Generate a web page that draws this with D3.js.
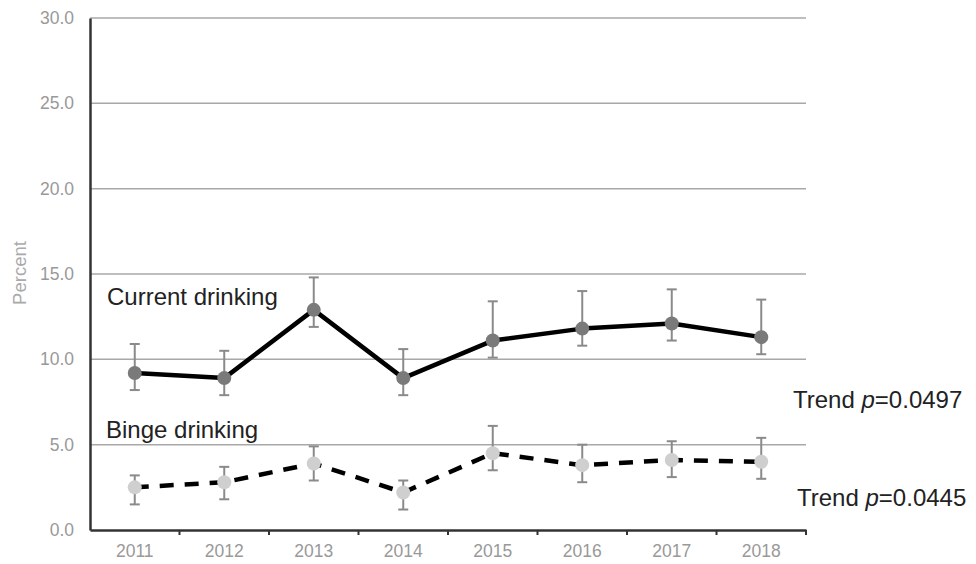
<!DOCTYPE html>
<html><head><meta charset="utf-8">
<script src="https://cdn.jsdelivr.net/npm/d3@7"></script>
<style>body{margin:0;background:#fff;}svg{display:block;font-family:"Liberation Sans",Arial,sans-serif;}</style>
</head><body>
<svg id="c" width="976" height="564"></svg>
<script>
const years = ["2011","2012","2013","2014","2015","2016","2017","2018"];
const currentVals = [9.2, 8.9, 12.9, 8.9, 11.1, 11.8, 12.1, 11.3];
const currentUpper = [10.9, 10.5, 14.8, 10.6, 13.4, 14.0, 14.1, 13.5];
const currentLower = [8.2, 7.9, 11.9, 7.9, 10.1, 10.8, 11.1, 10.3];
const bingeVals = [2.5, 2.8, 3.9, 2.2, 4.5, 3.8, 4.1, 4.0];
const bingeUpper = [3.2, 3.7, 4.9, 2.9, 6.1, 5.0, 5.2, 5.4];
const bingeLower = [1.5, 1.8, 2.9, 1.2, 3.5, 2.8, 3.1, 3.0];
const yTicks = [0, 5, 10, 15, 20, 25, 30];

(function(){
const svg = d3.select("#c");
const mLeft = 90, mRight = 806, mTop = 18, mBottom = 530;
const x = d3.scaleBand().domain(years).range([mLeft, mRight]);
const y = d3.scaleLinear().domain([0, 30]).range([mBottom, mTop]);
const FF = "Liberation Sans, Arial, sans-serif";

// gridlines
svg.append("g").selectAll("line").data(yTicks.filter(d => d > 0)).join("line")
  .attr("x1", mLeft).attr("x2", mRight).attr("y1", d => y(d)).attr("y2", d => y(d))
  .attr("stroke", "#a8a8a8").attr("stroke-width", 1.5);

// y axis
const yAxis = svg.append("g").attr("transform", `translate(${mLeft},0)`)
  .call(d3.axisLeft(y).tickValues(yTicks).tickFormat(d3.format(".1f")).tickSize(0).tickPadding(16));
yAxis.select(".domain").attr("stroke", "#333").attr("stroke-width", 2.5);
yAxis.selectAll("text").attr("fill", "#999").attr("font-size", 17.5).attr("font-family", FF);

// x axis
const xAxis = svg.append("g").attr("transform", `translate(0,${mBottom})`)
  .call(d3.axisBottom(x).tickSize(0).tickPadding(15));
xAxis.select(".domain").attr("stroke", "#333").attr("stroke-width", 2.5);
xAxis.selectAll("text").attr("fill", "#999").attr("font-size", 17.5).attr("font-family", FF);
// boundary ticks
const bounds = years.map(d => x(d)).concat([x(years[years.length-1]) + x.bandwidth()]).slice(1);
svg.append("g").selectAll("line").data(bounds).join("line")
  .attr("x1", d => d).attr("x2", d => d).attr("y1", mBottom).attr("y2", mBottom + 5)
  .attr("stroke", "#333").attr("stroke-width", 2);

// y label
svg.append("text").attr("transform", "translate(26,273) rotate(-90)")
  .attr("text-anchor", "middle").attr("fill", "#aaa").attr("font-size", 18.5).text("Percent");

const cx = d => x(d) + x.bandwidth() / 2;
const line = d3.line().x(d => cx(d.year)).y(d => y(d.v));

function drawSeries(vals, up, lo, dash, fill) {
  const data = years.map((yr, i) => ({year: yr, v: vals[i], u: up[i], l: lo[i]}));
  const p = svg.append("path").datum(data).attr("d", line).attr("fill", "none")
    .attr("stroke", "#000").attr("stroke-width", 4.5).attr("stroke-linejoin", "round");
  if (dash) p.attr("stroke-dasharray", dash);
  const g = svg.append("g");
  const eb = g.selectAll("g").data(data).join("g").attr("stroke", "#8a8a8a").attr("stroke-width", 2);
  eb.append("line").attr("x1", d => cx(d.year)).attr("x2", d => cx(d.year)).attr("y1", d => y(d.u)).attr("y2", d => y(d.l));
  eb.append("line").attr("x1", d => cx(d.year) - 5).attr("x2", d => cx(d.year) + 5).attr("y1", d => y(d.u)).attr("y2", d => y(d.u));
  eb.append("line").attr("x1", d => cx(d.year) - 5).attr("x2", d => cx(d.year) + 5).attr("y1", d => y(d.l)).attr("y2", d => y(d.l));
  svg.append("g").selectAll("circle").data(data).join("circle")
    .attr("cx", d => cx(d.year)).attr("cy", d => y(d.v)).attr("r", 7).attr("fill", fill);
}
drawSeries(currentVals, currentUpper, currentLower, null, "#7a7a7a");
drawSeries(bingeVals, bingeUpper, bingeLower, "14,11", "#cfcfcf");

// annotations
svg.append("text").attr("x", 107).attr("y", 305).attr("font-size", 24).attr("fill", "#222").text("Current drinking");
svg.append("text").attr("x", 106).attr("y", 438).attr("font-size", 24).attr("fill", "#222").text("Binge drinking");
const t1 = svg.append("text").attr("x", 793).attr("y", 408).attr("font-size", 24).attr("fill", "#222");
t1.append("tspan").text("Trend ");
t1.append("tspan").attr("font-style", "italic").text("p");
t1.append("tspan").text("=0.0497");
const t2 = svg.append("text").attr("x", 797).attr("y", 506).attr("font-size", 24).attr("fill", "#222");
t2.append("tspan").text("Trend ");
t2.append("tspan").attr("font-style", "italic").text("p");
t2.append("tspan").text("=0.0445");
})();
</script>
</body></html>
